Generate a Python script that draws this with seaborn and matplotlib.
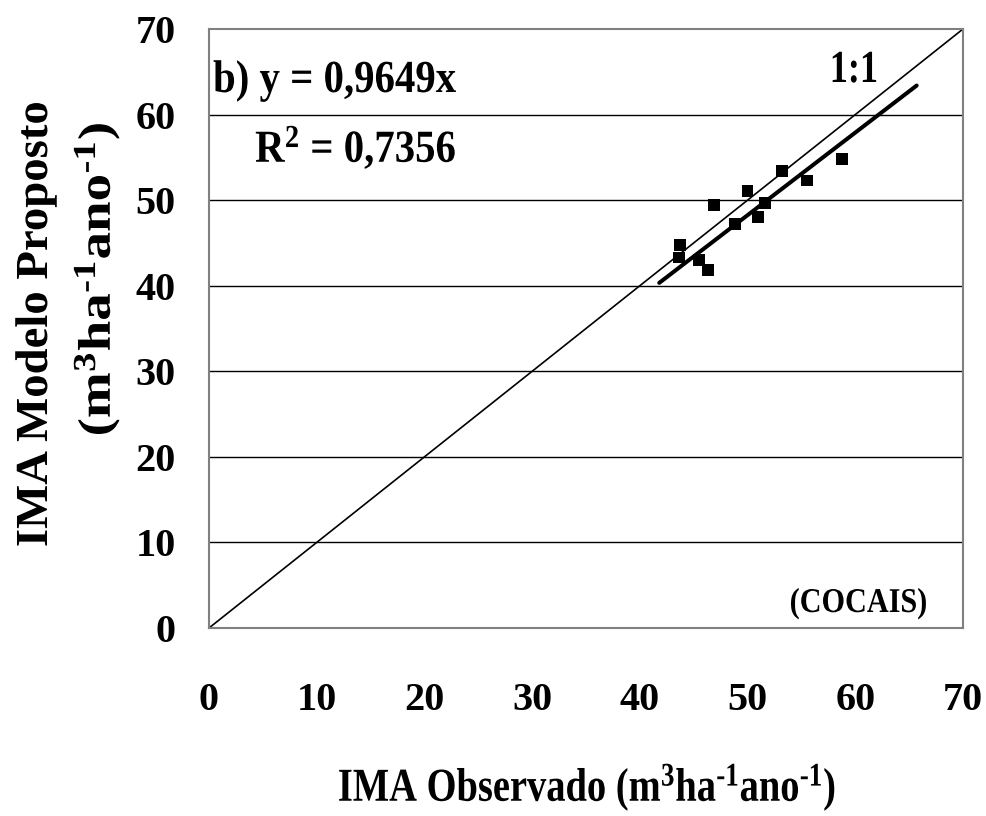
import matplotlib
matplotlib.use("Agg")
import matplotlib.pyplot as plt
import seaborn as sns
import pandas as pd
from matplotlib.patheffects import AbstractPathEffect
from matplotlib.transforms import Affine2D

# ---- data ----
observed = [46.9, 43.7, 43.6, 45.5, 46.3, 48.8, 50.0, 51.0, 51.6, 53.2, 55.5, 58.8]
predicted = [49.4, 44.8, 43.3, 43.0, 41.8, 47.2, 51.1, 48.0, 49.7, 53.4, 52.3, 54.8]
slope = 0.9649
slope_text = "0,9649"
r2_text = "0,7356"
fit_x = [41.8, 65.7]
ref_x = [0, 70]
ticks = [0, 10, 20, 30, 40, 50, 60, 70]


class Stretch(AbstractPathEffect):
    """Scale glyphs along the text direction (condensed/expanded look)."""
    def __init__(self, sx, anchor="center"):
        super().__init__()
        self.sx = sx
        self.anchor = anchor

    def draw_path(self, renderer, gc, tpath, affine, rgbFace=None):
        ext = tpath.get_extents()
        cx = ext.x0 if self.anchor == "left" else 0.5 * (ext.x0 + ext.x1)
        t = Affine2D().translate(-cx, 0).scale(self.sx, 1).translate(cx, 0) + affine
        renderer.draw_path(gc, tpath, t, rgbFace)


sns.set_theme(style="white")
plt.rcParams["font.family"] = ["Liberation Serif", "DejaVu Serif"]
plt.rcParams["font.weight"] = "bold"
plt.rcParams["text.color"] = "black"
plt.rcParams["xtick.color"] = "black"
plt.rcParams["ytick.color"] = "black"
plt.rcParams["mathtext.fontset"] = "custom"
plt.rcParams["mathtext.rm"] = "Liberation Serif:bold"
plt.rcParams["mathtext.bf"] = "Liberation Serif:bold"
plt.rcParams["mathtext.it"] = "Liberation Serif:bold"

W, H = 987, 816
fig = plt.figure(figsize=(W / 100, H / 100), dpi=100)
ax = fig.add_axes([209 / W, 1 - 628 / H, (963 - 209) / W, (628 - 29) / H])

df = pd.DataFrame({"obs": observed, "pred": predicted})
ref_df = pd.DataFrame({"x": ref_x, "y": ref_x})
fit_df = pd.DataFrame({"x": fit_x, "y": [slope * v for v in fit_x]})

for t in ticks[1:-1]:
    ax.axhline(t, color="black", lw=1.0, zorder=1)

sns.lineplot(data=ref_df, x="x", y="y", ax=ax, color="black", lw=1.2, zorder=2)
sns.lineplot(data=fit_df, x="x", y="y", ax=ax, color="black", lw=2.9, zorder=3,
             solid_capstyle="round")
sns.scatterplot(data=df, x="obs", y="pred", ax=ax, marker="s", s=72,
                color="black", edgecolor="none", zorder=4)

ax.set_xlim(0, 70)
ax.set_ylim(0, 70)
ax.set_xticks(ticks)
ax.set_yticks(ticks)
ax.set_xticklabels([str(t) for t in ticks], fontsize=29, fontweight="bold", color="black")
ax.set_yticklabels([str(t) for t in ticks], fontsize=29, fontweight="bold", color="black")
ax.tick_params(axis="x", length=0, pad=39)
ax.tick_params(axis="y", length=0, pad=24)
ax.set_xlabel("")
ax.set_ylabel("")
for sp in ax.spines.values():
    sp.set_color("#808080")
    sp.set_linewidth(1.5)
    sp.set_visible(True)

def px2data(px, py):
    return (px - 209) / 754 * 70, (628 - py) / 599 * 70

HY = "\u2010"
units = r"(m$^{\mathbf{3}}$ha$^{\mathbf{%s1}}$ano$^{\mathbf{%s1}}$)" % (HY, HY)

x, y = px2data(213, 92)
ax.text(x, y, "b) y = " + slope_text + "x", fontsize=33, fontweight="bold",
        ha="left", va="baseline", path_effects=[Stretch(0.89, "left")])
x, y = px2data(255, 162)
ax.text(x, y, r"R$^{\mathbf{2}}$ = " + r2_text, fontsize=33, fontweight="bold",
        ha="left", va="baseline", path_effects=[Stretch(0.89, "left")])
x, y = px2data(829, 82)
ax.text(x, y, "1:1", fontsize=33, fontweight="bold", ha="left", va="baseline",
        path_effects=[Stretch(0.79, "left")])
x, y = px2data(858.5, 612)
ax.text(x, y, "(COCAIS)", fontsize=25, fontweight="bold", ha="center", va="baseline",
        path_effects=[Stretch(0.87)])

fig.text(587 / W, 1 - 801 / H, "IMA Observado " + units,
         fontsize=34, fontweight="bold", ha="center", va="baseline",
         path_effects=[Stretch(0.815)])
fig.text(47 / W, 1 - 324 / H, "IMA Modelo Proposto", fontsize=33, fontweight="bold",
         rotation=90, rotation_mode="anchor", ha="center", va="baseline",
         path_effects=[Stretch(1.02)])
fig.text(110 / W, 1 - 279 / H, units,
         fontsize=33, fontweight="bold", rotation=90, rotation_mode="anchor",
         ha="center", va="baseline", path_effects=[Stretch(1.2)])

fig.savefig("out.png", dpi=100)
